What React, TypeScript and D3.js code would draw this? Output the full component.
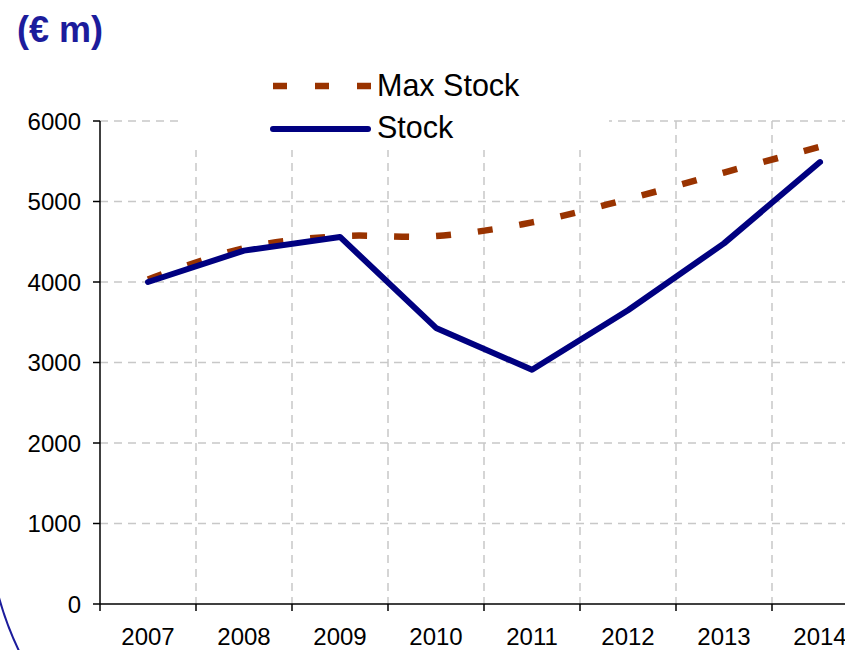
import React from 'react';
import * as d3 from 'd3';

// chart data
const years = ['2007', '2008', '2009', '2010', '2011', '2012', '2013', '2014'];
const stock = [4000, 4390, 4560, 3430, 2910, 3650, 4480, 5490];
const maxStock = [4030, 4420, 4570, 4570, 4740, 5030, 5360, 5680];
const yTicks = [0, 1000, 2000, 3000, 4000, 5000, 6000];
const seriesNames = ['Max Stock', 'Stock'];

const width = 845;
const height = 650;
const plot = { left: 100, right: 868, top: 121, bottom: 604 };
const font = '"Liberation Sans", Arial, sans-serif';
const navy = '#000080';
const rust = '#993300';
const grid = '#c8c8c8';

const App = () => {
  // x is a band scale, one band per year, points at the band centers
  const xScale = d3.scaleBand<string>().domain(years).range([plot.left, plot.right]).padding(0);
  const yScale = d3.scaleLinear().domain([0, 6000]).range([plot.bottom, plot.top]);
  const cx = (y: string) => (xScale(y) as number) + xScale.bandwidth() / 2;

  const smoothLine = d3
    .line<number>()
    .curve(d3.curveCatmullRom)
    .x((_, i) => cx(years[i]))
    .y((d) => yScale(d));
  const straightLine = d3
    .line<number>()
    .x((_, i) => cx(years[i]))
    .y((d) => yScale(d));

  // band edges for x grid / ticks
  const edges = years.map((y) => xScale(y) as number).concat([plot.right]);

  return (
    <svg width={width} height={height} style={{ position: 'absolute', left: 0, top: 0, background: '#fff' }}>
      {/* title fragment */}
      <text x={17} y={42} fontFamily={font} fontWeight="bold" fontSize={36} fill="#1c1c9c">
        (€ m)
      </text>

      {/* decorative border arc bottom-left */}
      <path d="M -2 594 A 316 316 0 0 0 21 655" fill="none" stroke="#1c1c9c" strokeWidth={2} />

      {/* horizontal grid */}
      {yTicks
        .filter((t) => t > 0)
        .map((t) => (
          <line
            key={'h' + t}
            x1={plot.left}
            x2={width}
            y1={yScale(t)}
            y2={yScale(t)}
            stroke={grid}
            strokeWidth={1.5}
            strokeDasharray="8 6"
          />
        ))}
      {/* vertical grid */}
      {edges.slice(1).map((x, i) => (
        <line
          key={'v' + i}
          x1={x}
          x2={x}
          y1={plot.top}
          y2={plot.bottom}
          stroke={grid}
          strokeWidth={1.5}
          strokeDasharray="8 6"
        />
      ))}

      {/* legend background */}
      <rect x={180} y={62} width={429} height={88} fill="#fff" />

      {/* axes */}
      <line x1={plot.left} x2={plot.left} y1={plot.top} y2={plot.bottom} stroke="#000" strokeWidth={1.5} />
      <line x1={plot.left} x2={width} y1={plot.bottom} y2={plot.bottom} stroke="#000" strokeWidth={1.5} />
      {yTicks.map((t) => (
        <g key={'yt' + t}>
          <line x1={plot.left - 7} x2={plot.left} y1={yScale(t)} y2={yScale(t)} stroke="#000" strokeWidth={1.5} />
          <text
            x={plot.left - 19}
            y={yScale(t)}
            textAnchor="end"
            dominantBaseline="central"
            fontFamily={font}
            fontSize={24}
            fill="#000"
          >
            {t}
          </text>
        </g>
      ))}
      {edges.map((x, i) => (
        <line key={'xt' + i} x1={x} x2={x} y1={plot.bottom} y2={plot.bottom + 7} stroke="#000" strokeWidth={1.5} />
      ))}
      {years.map((y) => (
        <text key={'xl' + y} x={cx(y)} y={645} textAnchor="middle" fontFamily={font} fontSize={24} fill="#000">
          {y}
        </text>
      ))}

      {/* series */}
      <path d={smoothLine(maxStock) || ''} fill="none" stroke={rust} strokeWidth={6.5} strokeDasharray="15 27" />
      <path
        d={straightLine(stock) || ''}
        fill="none"
        stroke={navy}
        strokeWidth={6}
        strokeLinecap="round"
        strokeLinejoin="round"
      />

      {/* legend */}
      <line x1={273} x2={371} y1={86} y2={86} stroke={rust} strokeWidth={6.5} strokeDasharray="14 28" />
      <text x={377} y={96} fontFamily={font} fontSize={30.5} fill="#000">
        {seriesNames[0]}
      </text>
      <line x1={273} x2={368} y1={129} y2={129} stroke={navy} strokeWidth={6} strokeLinecap="round" />
      <text x={377} y={138} fontFamily={font} fontSize={30.5} fill="#000">
        {seriesNames[1]}
      </text>
    </svg>
  );
};

export default App;
